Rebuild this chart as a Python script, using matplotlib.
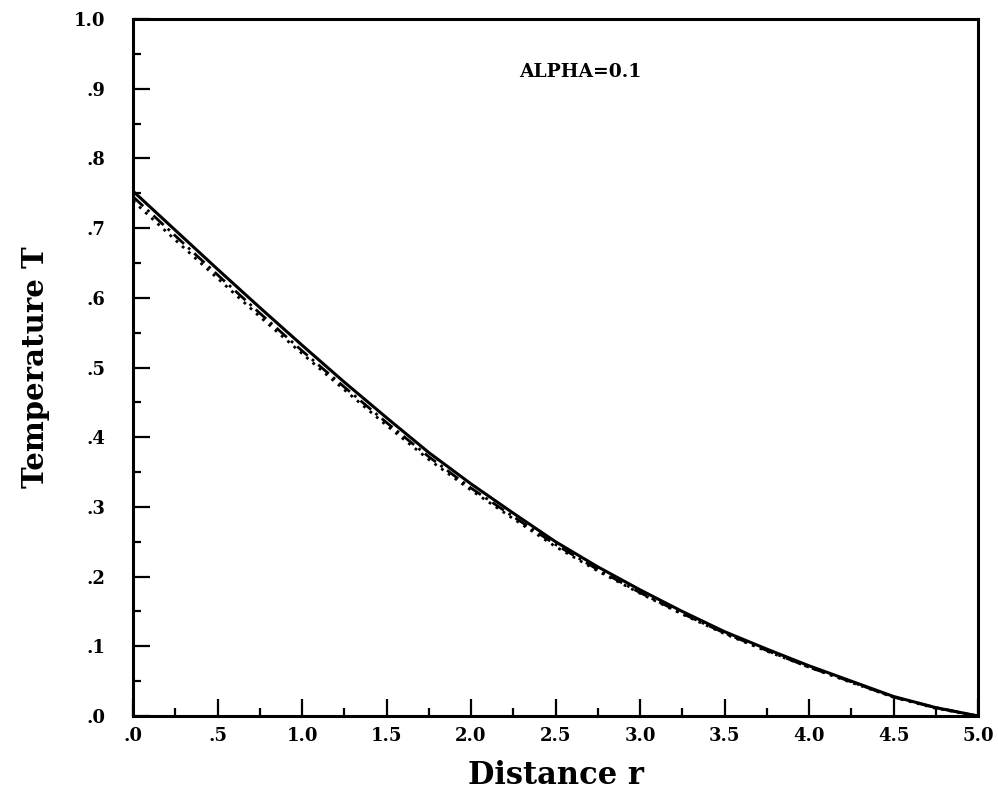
import numpy as np
import matplotlib.pyplot as plt
from matplotlib.ticker import MultipleLocator, FixedLocator

# distance r and the three temperature curves
r = [0.0, 0.25, 0.5, 0.75, 1.0, 1.25, 1.5, 1.75, 2.0, 2.25, 2.5,
     2.75, 3.0, 3.25, 3.5, 3.75, 4.0, 4.25, 4.5, 4.75, 5.0]
t_solid = [0.753, 0.697, 0.641, 0.586, 0.532, 0.479, 0.428, 0.378, 0.333, 0.291, 0.250,
           0.214, 0.181, 0.150, 0.121, 0.096, 0.072, 0.050, 0.028, 0.012, 0.0]
t_dashdot = [0.745, 0.689, 0.633, 0.578, 0.524, 0.472, 0.421, 0.372, 0.327, 0.286, 0.246,
             0.210, 0.177, 0.147, 0.119, 0.094, 0.070, 0.049, 0.027, 0.012, 0.0]
t_dotted = [0.739, 0.683, 0.628, 0.573, 0.520, 0.468, 0.417, 0.368, 0.324, 0.283, 0.243,
            0.208, 0.176, 0.146, 0.118, 0.093, 0.070, 0.048, 0.027, 0.011, 0.0]

xticks = [0.0, 0.5, 1.0, 1.5, 2.0, 2.5, 3.0, 3.5, 4.0, 4.5, 5.0]
xticklabels = [".0", ".5", "1.0", "1.5", "2.0", "2.5", "3.0", "3.5", "4.0", "4.5", "5.0"]
yticks = [0.0, 0.1, 0.2, 0.3, 0.4, 0.5, 0.6, 0.7, 0.8, 0.9, 1.0]
yticklabels = [".0", ".1", ".2", ".3", ".4", ".5", ".6", ".7", ".8", ".9", "1.0"]

plt.rcParams['font.family'] = 'DejaVu Serif'
plt.rcParams['font.weight'] = 'bold'

fig = plt.figure(figsize=(9.98, 7.99), dpi=100)
ax = fig.add_axes([0.1333, 0.1039, 0.8467, 0.8723])

ax.plot(r, t_solid, color='black', lw=2.2, ls='-')
ax.plot(r, t_dashdot, color='black', lw=2.0, ls=(0, (5, 2, 1, 2)))
ax.plot(r, t_dotted, color='black', lw=2.0, ls=(0, (1, 2)))

ax.set_xlim(0, 5)
ax.set_ylim(0, 1)

ax.xaxis.set_major_locator(FixedLocator(xticks))
ax.set_xticklabels(xticklabels)
ax.yaxis.set_major_locator(FixedLocator(yticks))
ax.set_yticklabels(yticklabels)
ax.xaxis.set_minor_locator(MultipleLocator(0.25))
ax.yaxis.set_minor_locator(MultipleLocator(0.05))

ax.tick_params(which='both', direction='in', top=False, right=False, width=1.6)
ax.tick_params(which='major', length=12)
ax.tick_params(which='minor', length=6)
ax.tick_params(axis='x', which='major', pad=8, labelsize=13)
ax.tick_params(axis='y', which='major', pad=20, labelsize=13)

for s in ax.spines.values():
    s.set_linewidth(2.2)

ax.set_xlabel("Distance r", fontsize=22, fontweight='bold', labelpad=11)
ax.set_ylabel("Temperature T", fontsize=21, fontweight='bold', labelpad=17)

ax.text(2.645, 0.924, "ALPHA=0.1", fontsize=13.5, fontweight='bold',
        ha='center', va='center')

fig.savefig("out.png", dpi=100)
